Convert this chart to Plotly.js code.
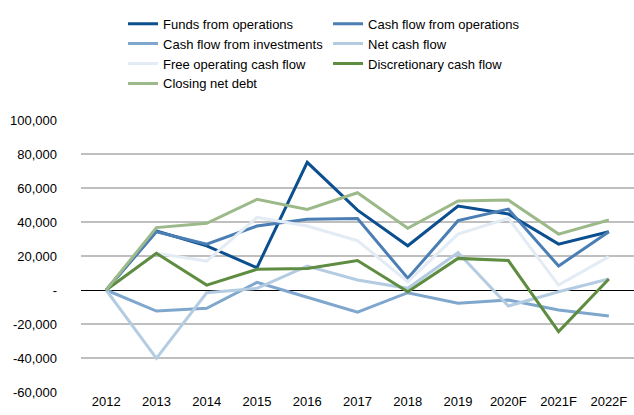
<!DOCTYPE html>
<html>
<head>
<meta charset="utf-8">
<script src="https://cdn.plot.ly/plotly-3.0.1.min.js"></script>
<style>html,body{margin:0;padding:0;background:#fff;}#chart{width:634px;height:415px;}</style>
</head>
<body>
<div id="chart"></div>
<script>
const years = ["2012","2013","2014","2015","2016","2017","2018","2019","2020F","2021F","2022F"];
const fundsFromOperations = [0, 34700, 26000, 13100, 75100, 47000, 26000, 49400, 44700, 27000, 34300];
const cashFlowFromOperations = [0, 34300, 27000, 37600, 41600, 42000, 6900, 40800, 47600, 14100, 34300];
const cashFlowFromInvestments = [0, -12400, -10800, 4500, -4300, -13100, -1600, -7800, -5900, -11800, -15300];
const netCashFlow = [0, -40200, -1600, 1000, 14100, 5900, 1000, 22000, -9400, -1000, 6500];
const freeOperatingCashFlow = [0, 21600, 17000, 42700, 37600, 29000, 4900, 32900, 42200, 2900, 19600];
const discretionaryCashFlow = [0, 21600, 2900, 12200, 12700, 17300, -1000, 18600, 17300, -24500, 6500];
const closingNetDebt = [0, 36700, 39200, 53300, 47400, 57200, 36300, 52400, 52900, 32900, 41200];
const yTickVals = [100000, 80000, 60000, 40000, 20000, 0, -20000, -40000, -60000];
const yTickText = ["100,000","80,000","60,000","40,000","20,000","-","-20,000","-40,000","-60,000"];

const series = [
  {name: "Funds from operations", y: fundsFromOperations, color: "#0B4F8F"},
  {name: "Cash flow from operations", y: cashFlowFromOperations, color: "#4A7EB4"},
  {name: "Cash flow from investments", y: cashFlowFromInvestments, color: "#7FA6CD"},
  {name: "Net cash flow", y: netCashFlow, color: "#B4CCE2"},
  {name: "Free operating cash flow", y: freeOperatingCashFlow, color: "#E3EBF5"},
  {name: "Discretionary cash flow", y: discretionaryCashFlow, color: "#5E8C40"},
  {name: "Closing net debt", y: closingNetDebt, color: "#9CB98A"}
];

const traces = series.map(s => ({
  type: "scatter", mode: "lines", name: s.name, x: years, y: s.y,
  line: {color: s.color, width: 3}
}));

const layout = {
  width: 634, height: 415,
  margin: {l: 81, r: 0, t: 120, b: 23},
  paper_bgcolor: "#fff", plot_bgcolor: "#fff",
  font: {family: "Liberation Sans, Arial, sans-serif", size: 13, color: "#000"},
  showlegend: true,
  legend: {
    orientation: "h", x: 0.076, xanchor: "left", y: 1.409, yanchor: "top",
    entrywidth: 160, entrywidthmode: "pixels",
    font: {size: 13, color: "#000"}, bgcolor: "rgba(0,0,0,0)",
    traceorder: "normal"
  },
  xaxis: {
    type: "category", range: [-0.5, 10.5], showgrid: false, zeroline: false,
    showline: false, ticks: "", tickfont: {size: 13}, fixedrange: true
  },
  yaxis: {
    range: [-60000, 100000], tickvals: yTickVals, ticktext: yTickText,
    showgrid: true, gridcolor: "#BFBFBF", gridwidth: 1.5,
    zeroline: true, zerolinecolor: "#000", zerolinewidth: 1,
    showline: false, ticks: "", ticklabelstandoff: 23, tickfont: {size: 13}, fixedrange: true
  }
};

Plotly.newPlot("chart", traces, layout, {displayModeBar: false, staticPlot: true});
</script>
</body>
</html>
